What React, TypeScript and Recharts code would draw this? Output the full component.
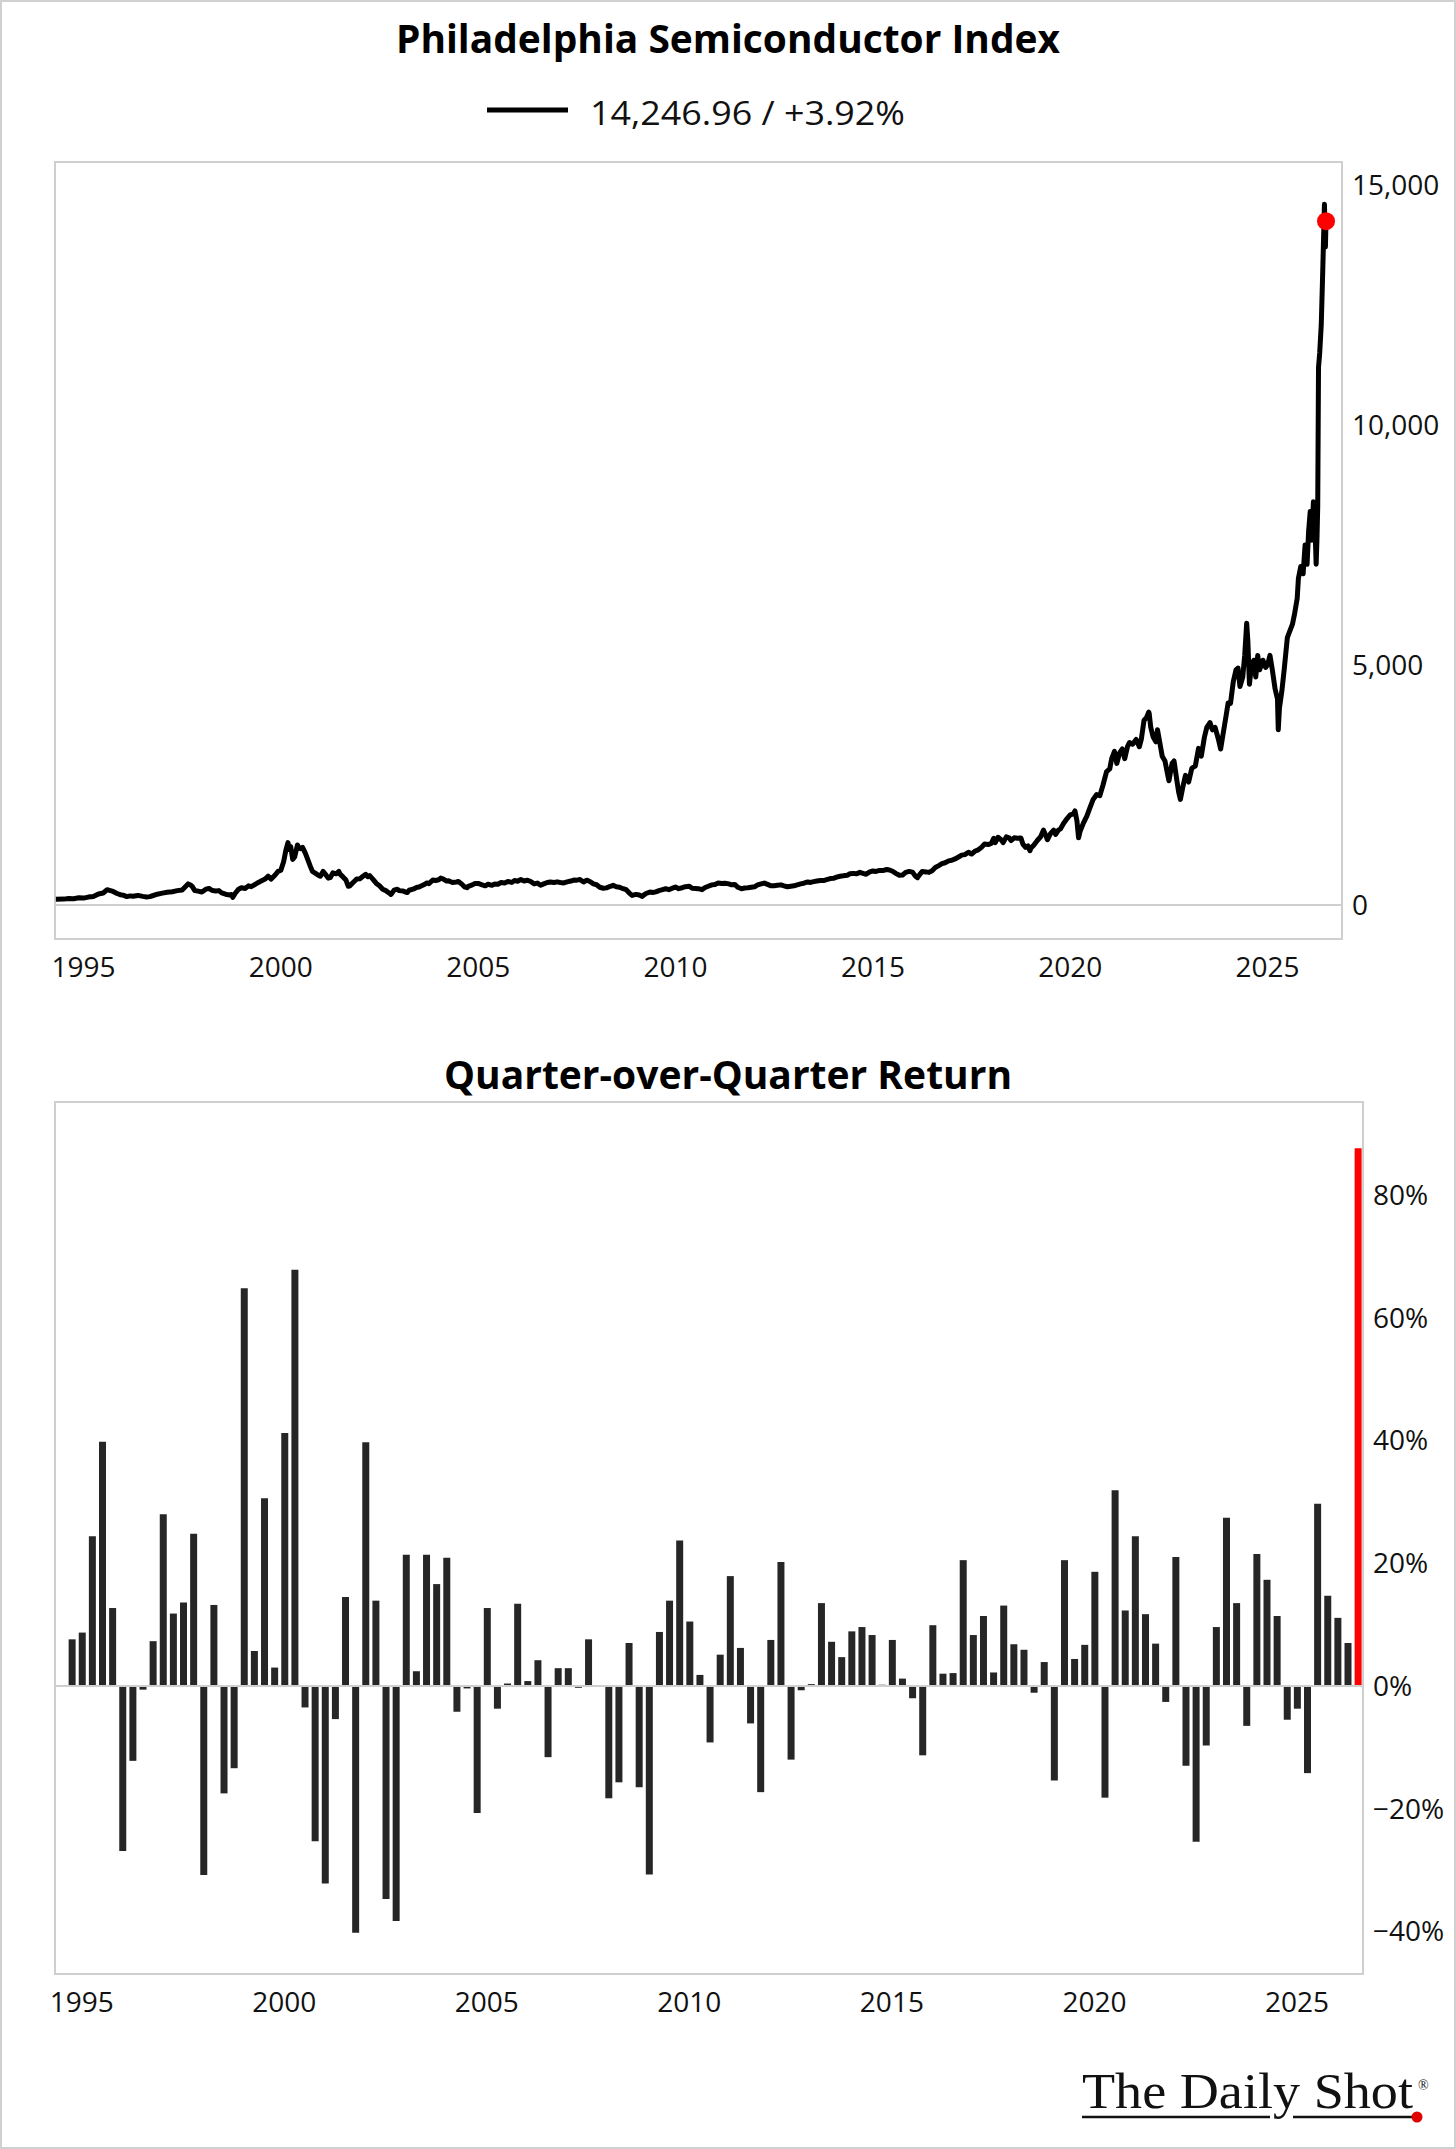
import React from 'react';
import {
  LineChart,
  Line,
  BarChart,
  Bar,
  Cell,
  XAxis,
  YAxis,
  ReferenceLine,
  ReferenceDot,
  ReferenceArea,
} from 'recharts';

// ---------------------------------------------------------------------------
// Philadelphia Semiconductor Index (SOX) level, [decimal year, index level]
// ---------------------------------------------------------------------------
const soxLevels1994to2004: [number, number][] = [
  [1994.3, 120], [1994.5, 123], [1994.62, 135], [1994.75, 132], [1994.88, 150],
  [1995.0, 144], [1995.12, 165], [1995.25, 179], [1995.38, 230], [1995.5, 250],
  [1995.6, 320], [1995.68, 300], [1995.75, 282], [1995.85, 240], [1995.93, 215],
  [1996.0, 206], [1996.1, 175], [1996.18, 190], [1996.25, 181], [1996.38, 200],
  [1996.5, 180], [1996.6, 168], [1996.68, 175], [1996.75, 193], [1996.87, 225],
  [1997.0, 247], [1997.12, 265], [1997.25, 276], [1997.38, 300], [1997.5, 314],
  [1997.58, 380], [1997.65, 440], [1997.72, 410], [1997.75, 392], [1997.82, 300],
  [1997.9, 290], [1998.0, 271], [1998.1, 330], [1998.18, 345], [1998.25, 307],
  [1998.35, 290], [1998.43, 300], [1998.5, 253], [1998.6, 225], [1998.68, 210],
  [1998.75, 219], [1998.78, 160], [1998.85, 250], [1998.93, 330], [1999.0, 361],
  [1999.1, 345], [1999.18, 400], [1999.25, 382], [1999.35, 430], [1999.43, 470],
  [1999.5, 499], [1999.6, 540], [1999.68, 600], [1999.75, 540], [1999.85, 620],
  [1999.93, 700], [2000.0, 725], [2000.07, 900], [2000.13, 1150], [2000.18, 1300],
  [2000.22, 1150], [2000.25, 1215], [2000.3, 950], [2000.35, 1000], [2000.42, 1250],
  [2000.47, 1180], [2000.5, 1173], [2000.55, 1200], [2000.62, 1080], [2000.68, 950],
  [2000.75, 800], [2000.8, 700], [2000.88, 660], [2000.95, 620], [2001.0, 600],
  [2001.07, 700], [2001.13, 640], [2001.2, 560], [2001.25, 570], [2001.32, 670],
  [2001.4, 650], [2001.47, 700], [2001.5, 643], [2001.58, 580], [2001.65, 520],
  [2001.71, 390], [2001.75, 400], [2001.83, 470], [2001.92, 540], [2002.0, 545],
  [2002.08, 600], [2002.15, 640], [2002.2, 590], [2002.25, 613], [2002.33, 540],
  [2002.42, 450], [2002.5, 400], [2002.58, 330], [2002.66, 300], [2002.75, 247],
  [2002.79, 220], [2002.87, 310], [2002.95, 330], [2003.0, 300], [2003.1, 290],
  [2003.2, 260], [2003.25, 307], [2003.35, 330], [2003.45, 370], [2003.5, 373],
  [2003.62, 420], [2003.7, 460], [2003.75, 445], [2003.85, 520], [2003.92, 510],
  [2004.0, 526], [2004.05, 560], [2004.12, 540], [2004.2, 500], [2004.25, 504],
  [2004.35, 470], [2004.45, 480], [2004.5, 490], [2004.58, 440], [2004.65, 380],
  [2004.72, 360], [2004.75, 390], [2004.85, 420], [2004.92, 450],
];

const soxLevels2005to2016: [number, number][] = [
  [2005.0, 449], [2005.1, 420], [2005.18, 400], [2005.25, 432], [2005.35, 410],
  [2005.42, 440], [2005.5, 434], [2005.58, 470], [2005.67, 460], [2005.75, 492],
  [2005.85, 470], [2005.92, 510], [2006.0, 496], [2006.08, 530], [2006.16, 500],
  [2006.25, 517], [2006.33, 490], [2006.42, 440], [2006.5, 457], [2006.58, 410],
  [2006.66, 440], [2006.75, 470], [2006.83, 480], [2006.92, 470], [2007.0, 483],
  [2007.08, 470], [2007.17, 460], [2007.25, 482], [2007.35, 500], [2007.42, 520],
  [2007.5, 518], [2007.58, 530], [2007.67, 480], [2007.75, 518], [2007.83, 490],
  [2007.92, 440], [2008.0, 423], [2008.08, 370], [2008.17, 350], [2008.25, 357],
  [2008.35, 390], [2008.42, 410], [2008.5, 382], [2008.58, 370], [2008.67, 340],
  [2008.75, 319], [2008.83, 250], [2008.9, 200], [2009.0, 221], [2009.08, 210],
  [2009.15, 180], [2009.25, 240], [2009.35, 270], [2009.42, 260], [2009.5, 274],
  [2009.58, 300], [2009.67, 320], [2009.75, 339], [2009.83, 320], [2009.92, 350],
  [2010.0, 374], [2010.08, 340], [2010.17, 360], [2010.25, 381], [2010.35, 390],
  [2010.42, 350], [2010.5, 346], [2010.58, 340], [2010.67, 320], [2010.75, 364],
  [2010.83, 390], [2010.92, 420], [2011.0, 429], [2011.08, 460], [2011.17, 450],
  [2011.25, 455], [2011.35, 440], [2011.42, 420], [2011.5, 428], [2011.58, 370],
  [2011.67, 340], [2011.75, 354], [2011.83, 360], [2011.92, 370], [2012.0, 380],
  [2012.08, 420], [2012.17, 440], [2012.25, 457], [2012.33, 430], [2012.42, 400],
  [2012.5, 402], [2012.58, 410], [2012.67, 420], [2012.75, 399], [2012.83, 380],
  [2012.92, 390], [2013.0, 400], [2013.08, 420], [2013.17, 440], [2013.25, 454],
  [2013.35, 480], [2013.42, 470], [2013.5, 487], [2013.58, 500], [2013.67, 510],
  [2013.75, 510], [2013.83, 530], [2013.92, 550], [2014.0, 555], [2014.08, 580],
  [2014.17, 600], [2014.25, 608], [2014.35, 620], [2014.42, 650], [2014.5, 659],
  [2014.58, 650], [2014.67, 680], [2014.75, 660], [2014.83, 640], [2014.92, 690],
  [2015.0, 710], [2015.08, 700], [2015.17, 720], [2015.25, 718], [2015.35, 740],
  [2015.42, 730], [2015.5, 704], [2015.58, 660], [2015.67, 620], [2015.75, 624],
  [2015.83, 680], [2015.92, 700], [2016.0, 686], [2016.08, 600], [2016.13, 570],
  [2016.2, 650], [2016.25, 700], [2016.35, 690], [2016.42, 680], [2016.5, 715],
  [2016.58, 780], [2016.67, 820], [2016.75, 861], [2016.83, 880], [2016.92, 920],
];

const soxLevels2017to2026: [number, number][] = [
  [2017.0, 933], [2017.08, 960], [2017.17, 1000], [2017.25, 1039], [2017.33, 1050],
  [2017.42, 1100], [2017.5, 1062], [2017.58, 1120], [2017.67, 1150], [2017.75, 1201],
  [2017.83, 1270], [2017.92, 1260], [2018.0, 1283], [2018.06, 1390], [2018.1, 1300],
  [2018.17, 1410], [2018.25, 1359], [2018.3, 1300], [2018.38, 1420], [2018.45, 1400],
  [2018.5, 1344], [2018.58, 1400], [2018.66, 1390], [2018.75, 1396], [2018.8, 1270],
  [2018.87, 1200], [2018.93, 1230], [2018.98, 1130], [2019.0, 1181], [2019.08, 1250],
  [2019.17, 1350], [2019.25, 1423], [2019.32, 1560], [2019.38, 1450], [2019.42, 1360],
  [2019.5, 1486], [2019.58, 1560], [2019.63, 1470], [2019.7, 1560], [2019.75, 1585],
  [2019.83, 1700], [2019.92, 1800], [2020.0, 1880], [2020.08, 1900], [2020.12, 1960],
  [2020.17, 1750], [2020.21, 1400], [2020.25, 1538], [2020.33, 1700], [2020.42, 1850],
  [2020.5, 2029], [2020.58, 2200], [2020.67, 2300], [2020.75, 2279], [2020.83, 2500],
  [2020.92, 2780], [2021.0, 2835], [2021.05, 3050], [2021.12, 3200], [2021.18, 2950],
  [2021.25, 3167], [2021.32, 3250], [2021.38, 3050], [2021.45, 3300], [2021.5, 3385],
  [2021.58, 3350], [2021.67, 3450], [2021.75, 3297], [2021.8, 3450], [2021.87, 3850],
  [2021.93, 3900], [2021.99, 4020], [2022.0, 3990], [2022.04, 3700], [2022.1, 3500],
  [2022.17, 3400], [2022.21, 3650], [2022.25, 3471], [2022.33, 3100], [2022.4, 3000],
  [2022.46, 2750], [2022.5, 2589], [2022.58, 2950], [2022.63, 3000], [2022.7, 2600],
  [2022.75, 2338], [2022.79, 2200], [2022.85, 2450], [2022.92, 2700], [2023.0, 2562],
  [2023.08, 2850], [2023.17, 2900], [2023.25, 3264], [2023.32, 3100], [2023.4, 3500],
  [2023.46, 3700], [2023.54, 3800], [2023.6, 3650], [2023.67, 3700], [2023.75, 3464],
  [2023.81, 3250], [2023.88, 3600], [2023.95, 3950], [2024.0, 4209], [2024.06, 4200],
  [2024.13, 4650], [2024.2, 4900], [2024.25, 4937], [2024.3, 4550], [2024.37, 4750],
  [2024.42, 5200], [2024.47, 5870], [2024.5, 5500], [2024.54, 4600], [2024.58, 4900],
  [2024.65, 5100], [2024.7, 4750], [2024.75, 5197], [2024.8, 4900], [2024.88, 5100],
  [2024.95, 4950], [2025.0, 5005], [2025.06, 5200], [2025.12, 4900], [2025.19, 4500],
  [2025.25, 4294], [2025.27, 3650], [2025.3, 4100], [2025.36, 4450], [2025.42, 4900],
  [2025.5, 5569], [2025.56, 5700], [2025.63, 5850], [2025.68, 6050], [2025.75, 6388],
  [2025.78, 6800], [2025.84, 7050], [2025.9, 6900], [2025.95, 7500], [2026.0, 7097],
  [2026.04, 7800], [2026.08, 8200], [2026.12, 7600], [2026.16, 8400], [2026.2, 7900],
  [2026.23, 7100], [2026.25, 7594], [2026.27, 8300], [2026.29, 11200], [2026.32, 11500],
  [2026.36, 12100], [2026.4, 13300], [2026.44, 14600], [2026.465, 13710],
  [2026.48, 14246.96],
];

const lastDailyChangePct = 3.92;

// ---------------------------------------------------------------------------
// Quarter-over-quarter return (%), one value per calendar quarter
// ---------------------------------------------------------------------------
const quarterLabels = [
  '1994Q3', '1994Q4',
  '1995Q1', '1995Q2', '1995Q3', '1995Q4',
  '1996Q1', '1996Q2', '1996Q3', '1996Q4',
  '1997Q1', '1997Q2', '1997Q3', '1997Q4',
  '1998Q1', '1998Q2', '1998Q3', '1998Q4',
  '1999Q1', '1999Q2', '1999Q3', '1999Q4',
  '2000Q1', '2000Q2', '2000Q3', '2000Q4',
  '2001Q1', '2001Q2', '2001Q3', '2001Q4',
  '2002Q1', '2002Q2', '2002Q3', '2002Q4',
  '2003Q1', '2003Q2', '2003Q3', '2003Q4',
  '2004Q1', '2004Q2', '2004Q3', '2004Q4',
  '2005Q1', '2005Q2', '2005Q3', '2005Q4',
  '2006Q1', '2006Q2', '2006Q3', '2006Q4',
  '2007Q1', '2007Q2', '2007Q3', '2007Q4',
  '2008Q1', '2008Q2', '2008Q3', '2008Q4',
  '2009Q1', '2009Q2', '2009Q3', '2009Q4',
  '2010Q1', '2010Q2', '2010Q3', '2010Q4',
  '2011Q1', '2011Q2', '2011Q3', '2011Q4',
  '2012Q1', '2012Q2', '2012Q3', '2012Q4',
  '2013Q1', '2013Q2', '2013Q3', '2013Q4',
  '2014Q1', '2014Q2', '2014Q3', '2014Q4',
  '2015Q1', '2015Q2', '2015Q3', '2015Q4',
  '2016Q1', '2016Q2', '2016Q3', '2016Q4',
  '2017Q1', '2017Q2', '2017Q3', '2017Q4',
  '2018Q1', '2018Q2', '2018Q3', '2018Q4',
  '2019Q1', '2019Q2', '2019Q3', '2019Q4',
  '2020Q1', '2020Q2', '2020Q3', '2020Q4',
  '2021Q1', '2021Q2', '2021Q3', '2021Q4',
  '2022Q1', '2022Q2', '2022Q3', '2022Q4',
  '2023Q1', '2023Q2', '2023Q3', '2023Q4',
  '2024Q1', '2024Q2', '2024Q3', '2024Q4',
  '2025Q1', '2025Q2', '2025Q3', '2025Q4',
  '2026Q1', '2026Q2',
];

const qoqReturns = [
  7.6, 8.7,
  24.4, 39.8, 12.7, -26.9,
  -12.2, -0.6, 7.3, 28.0,
  11.8, 13.6, 24.8, -30.8,
  13.2, -17.5, -13.4, 64.8,
  5.7, 30.6, 3.0, 41.2,
  67.8, -3.5, -25.3, -32.2,
  -5.4, 14.5, -40.2, 39.7,
  13.9, -34.7, -38.3, 21.4,
  2.4, 21.4, 16.6, 20.9,
  -4.2, -0.4, -20.7, 12.7,
  -3.7, 0.4, 13.4, 0.8,
  4.2, -11.6, 2.9, 2.9,
  -0.3, 7.6, -0.1, -18.3,
  -15.7, 7.0, -16.5, -30.7,
  8.8, 13.9, 23.7, 10.5,
  1.8, -9.2, 5.1, 17.9,
  6.2, -6.1, -17.3, 7.5,
  20.2, -12.0, -0.7, 0.3,
  13.5, 7.2, 4.7, 8.9,
  9.6, 8.3, 0.2, 7.5,
  1.2, -2.0, -11.3, 9.9,
  2.0, 2.1, 20.5, 8.3,
  11.4, 2.2, 13.1, 6.8,
  5.9, -1.1, 3.9, -15.4,
  20.5, 4.4, 6.7, 18.6,
  -18.2, 31.9, 12.3, 24.4,
  11.7, 6.9, -2.6, 21.0,
  -13.0, -25.4, -9.7, 9.6,
  27.4, 13.5, -6.5, 21.5,
  17.3, 11.4, -5.5, -3.7,
  -14.2, 29.7, 14.7, 11.1,
  7.0, 87.6,
];

// Axis ticks
const yearTicks = [1995, 2000, 2005, 2010, 2015, 2020, 2025];
const levelTicks = [0, 5000, 10000, 15000];
const returnTicks = [-40, -20, 0, 20, 40, 60, 80];

// Axis ranges
const levelXDomain: [number, number] = [1994.278, 2026.885];
const levelYDomain: [number, number] = [-708, 15479];
const returnXDomain: [number, number] = [1994.338, 2026.631];
const returnYDomain: [number, number] = [-46.93, 95.15];

// ---------------------------------------------------------------------------
const levelData = [...soxLevels1994to2004, ...soxLevels2005to2016, ...soxLevels2017to2026].map(
  ([date, value]) => ({ date, value }),
);
const lastPoint = levelData[levelData.length - 1];

// quarter label -> quarter-end as decimal year
const quarterEnd = (label: string) => {
  const year = Number(label.slice(0, 4));
  const q = Number(label.slice(5));
  return year + q * 0.25;
};

const returnData = quarterLabels.map((label, i) => ({
  label,
  date: quarterEnd(label),
  ret: qoqReturns[i],
  current: i === quarterLabels.length - 1,
}));

const FRAME = '#cfcfcf';
const TICK_FONT = "'Open Sans', 'Noto Sans', sans-serif";
const TITLE_FONT = "'Open Sans', 'Noto Sans', sans-serif";

const tickStyle = { fill: '#111', fontSize: 28, fontFamily: TICK_FONT };

const formatLevel = (v: number) => v.toLocaleString('en-US');
const formatPct = (v: number) => (v < 0 ? `\u2212${Math.abs(v)}%` : `${v}%`);

const legendText = `${lastPoint.value.toLocaleString('en-US', {
  minimumFractionDigits: 2,
  maximumFractionDigits: 2,
})} / +${lastDailyChangePct.toFixed(2)}%`;

function LevelChart() {
  return (
    <LineChart
      width={1456}
      height={1000}
      data={levelData}
      margin={{ top: 162, right: 14, bottom: 21, left: 55 }}
    >
      <ReferenceArea
        x1={levelXDomain[0]}
        x2={levelXDomain[1]}
        y1={levelYDomain[0]}
        y2={levelYDomain[1]}
        fill="none"
        stroke={FRAME}
        strokeWidth={2}
      />
      <ReferenceLine y={0} stroke={FRAME} strokeWidth={2} />
      <XAxis
        dataKey="date"
        type="number"
        scale="linear"
        domain={levelXDomain}
        allowDataOverflow
        ticks={yearTicks}
        tickLine={false}
        axisLine={false}
        tickSize={0}
        tickMargin={18}
        height={40}
        tick={tickStyle}
        interval={0}
      />
      <YAxis
        orientation="right"
        type="number"
        domain={levelYDomain}
        allowDataOverflow
        ticks={levelTicks}
        tickFormatter={formatLevel}
        tickLine={false}
        axisLine={false}
        tickSize={0}
        tickMargin={10}
        width={100}
        tick={tickStyle}
        interval={0}
      />
      <Line
        dataKey="value"
        type="linear"
        stroke="#000"
        strokeWidth={5}
        strokeLinejoin="round"
        dot={false}
        activeDot={false}
        isAnimationActive={false}
      />
      <ReferenceDot x={lastPoint.date} y={lastPoint.value} r={9} fill="#ff0000" stroke="none" />
    </LineChart>
  );
}

function ReturnChart() {
  return (
    <BarChart
      width={1456}
      height={1010}
      data={returnData}
      margin={{ top: 72, right: 3, bottom: 26, left: 55 }}
    >
      <ReferenceArea
        x1={returnXDomain[0]}
        x2={returnXDomain[1]}
        y1={returnYDomain[0]}
        y2={returnYDomain[1]}
        fill="none"
        stroke={FRAME}
        strokeWidth={2}
      />
      <ReferenceLine y={0} stroke={FRAME} strokeWidth={2} />
      <XAxis
        dataKey="date"
        type="number"
        scale="linear"
        domain={returnXDomain}
        allowDataOverflow
        ticks={yearTicks}
        tickLine={false}
        axisLine={false}
        tickSize={0}
        tickMargin={18}
        height={40}
        tick={tickStyle}
        interval={0}
      />
      <YAxis
        orientation="right"
        type="number"
        domain={returnYDomain}
        allowDataOverflow
        ticks={returnTicks}
        tickFormatter={formatPct}
        tickLine={false}
        axisLine={false}
        tickSize={0}
        tickMargin={10}
        width={90}
        tick={tickStyle}
        interval={0}
      />
      <Bar dataKey="ret" barSize={7} isAnimationActive={false}>
        {returnData.map((d) => (
          <Cell key={d.label} fill={d.current ? '#ff0000' : '#262626'} />
        ))}
      </Bar>
    </BarChart>
  );
}

function Overlay() {
  return (
    <svg
      width={1456}
      height={2149}
      style={{ position: 'absolute', left: 0, top: 0, pointerEvents: 'none' }}
    >
      <text
        x={728}
        y={53}
        textAnchor="middle"
        fontFamily={TITLE_FONT}
        fontWeight={700}
        fontSize={39}
        fill="#000"
        textLength={664}
        lengthAdjust="spacingAndGlyphs"
      >
        Philadelphia Semiconductor Index
      </text>

      <line x1={487} x2={568} y1={110} y2={110} stroke="#000" strokeWidth={5} />
      <text
        x={590}
        y={125}
        fontFamily={TICK_FONT}
        fontSize={32}
        fill="#111"
        textLength={315}
        lengthAdjust="spacingAndGlyphs"
      >
        {legendText}
      </text>

      <text
        x={728}
        y={1089}
        textAnchor="middle"
        fontFamily={TITLE_FONT}
        fontWeight={700}
        fontSize={40}
        fill="#000"
        textLength={568}
        lengthAdjust="spacingAndGlyphs"
      >
        Quarter-over-Quarter Return
      </text>

      {/* masthead */}
      <text
        x={1082}
        y={2108}
        fontFamily="'Liberation Serif', 'DejaVu Serif', serif"
        fontSize={50}
        fill="#111"
        textLength={331}
        lengthAdjust="spacingAndGlyphs"
      >
        The Daily Shot
      </text>
      <text x={1418} y={2090} fontFamily="'Liberation Serif', serif" fontSize={14} fill="#111">
        ®
      </text>
      <line x1={1082} x2={1270} y1={2117} y2={2117} stroke="#111" strokeWidth={2.5} />
      <line x1={1293} x2={1414} y1={2117} y2={2117} stroke="#111" strokeWidth={2.5} />
      <circle cx={1417} cy={2117} r={5.5} fill="#e00000" />
    </svg>
  );
}

export default function App() {
  return (
    <div
      style={{
        position: 'absolute',
        left: 0,
        top: 0,
        width: 1456,
        height: 2149,
        background: '#fff',
        boxShadow: 'inset 0 0 0 2px #d0d0d0',
        overflow: 'hidden',
      }}
    >
      <div style={{ position: 'absolute', left: 0, top: 0 }}>
        <LevelChart />
      </div>
      <div style={{ position: 'absolute', left: 0, top: 1030 }}>
        <ReturnChart />
      </div>
      <Overlay />
    </div>
  );
}
